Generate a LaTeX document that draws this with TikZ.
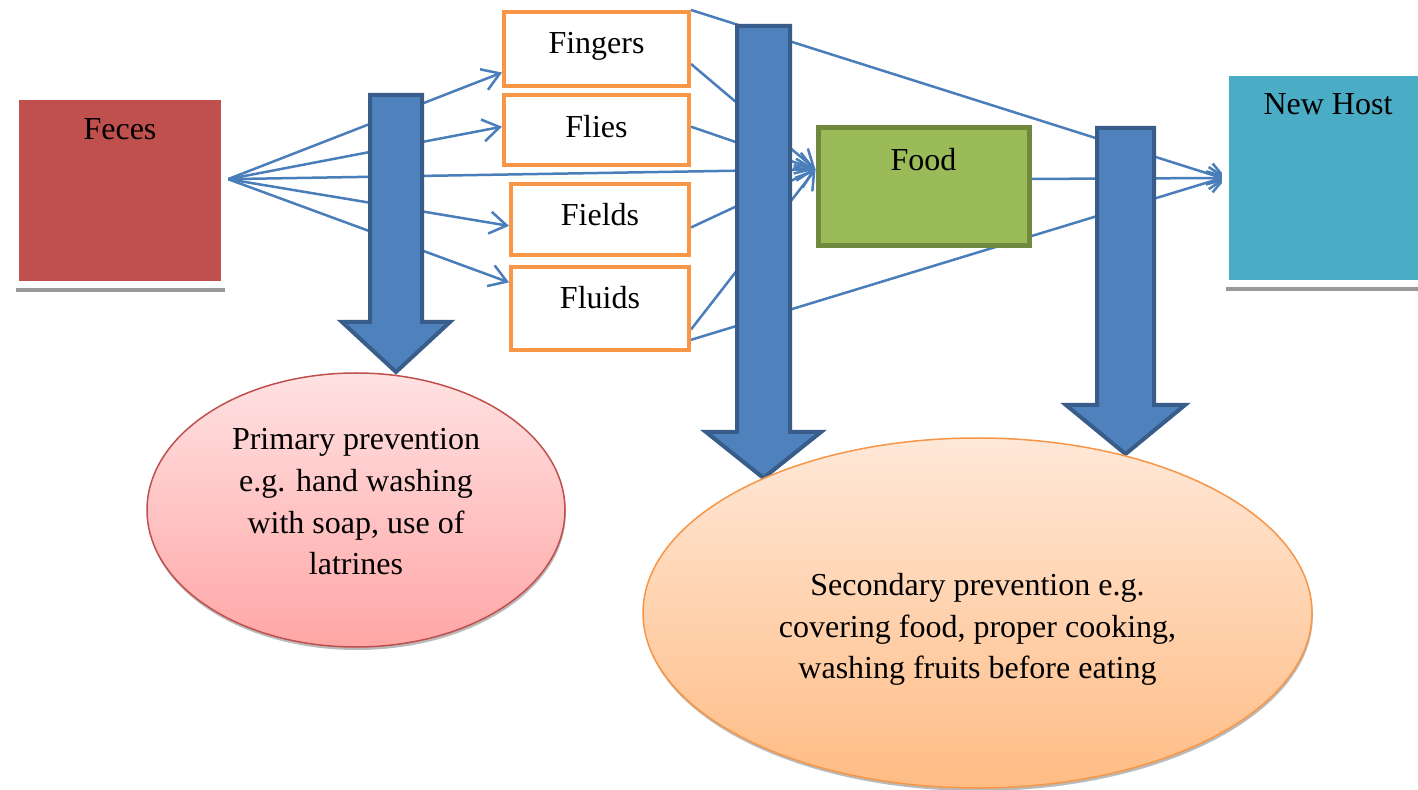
\documentclass[tikz,border=0pt]{standalone}
\usepackage{fontspec}
\setmainfont{Liberation Serif}
\usetikzlibrary{arrows.meta,shapes.geometric,shadows}
\definecolor{fecesred}{HTML}{C0504D}
\definecolor{hostteal}{HTML}{4BACC6}
\definecolor{vorange}{HTML}{F79646}
\definecolor{foodgreen}{HTML}{9BBB59}
\definecolor{foodedge}{HTML}{71893F}
\definecolor{linkblue}{HTML}{4A7EBB}
\definecolor{barfill}{HTML}{4F81BD}
\definecolor{baredge}{HTML}{385D8A}
\definecolor{pinktop}{HTML}{FFE2E2}
\definecolor{pinkbot}{HTML}{FFA6A6}
\definecolor{peachtop}{HTML}{FFE8D8}
\definecolor{peachbot}{HTML}{FFBC84}
\pgfdeclarelayer{background}
\pgfsetlayers{background,main}
\begin{document}
\begin{tikzpicture}[x=0.5pt,y=-0.5pt,
  every node/.style={font=\fontsize{16pt}{20.85pt}\selectfont, text=black},
  framebox/.style={rectangle, draw=white, line width=3.5pt,
    drop shadow={shadow xshift=0pt, shadow yshift=-3.75pt, fill=black!40, opacity=1}},
  vecbox/.style={rectangle, draw=vorange, line width=2pt, fill=white},
  foodbox/.style={rectangle, draw=foodedge, line width=2.5pt, fill=foodgreen},
  link/.style={draw=linkblue, line width=1.25pt},
  tipped/.style={link, -{Straight Barb[length=8.5pt,width=11pt]}},
  blockarrow/.style={fill=barfill, draw=baredge, line width=2pt, line join=miter},
  prevoval/.style={ellipse, line width=0.75pt,
    drop shadow={shadow xshift=0.4pt, shadow yshift=-1.5pt, fill=black!45, opacity=0.6}}
]
\useasboundingbox (0,0) rectangle (1418,790);
\begin{pgfonlayer}{background}
\fill[white] (0,0) rectangle (1418,790);
\end{pgfonlayer}

% boxes
\node[framebox, fill=fecesred, minimum width=104.5pt, minimum height=94pt,
  label={[anchor=base,yshift=-23.5pt]north:Feces}] (feces) at (120,190.5) {};
\node[framebox, fill=hostteal, minimum width=102.5pt, minimum height=105.5pt,
  label={[anchor=base,yshift=-23pt]north:New Host}] (host) at (1328,178) {};
\node[vecbox, minimum width=92.5pt, minimum height=37pt,
  label={[anchor=base,yshift=-22pt]north:Fingers}] (fingers) at (596.5,49) {};
\node[vecbox, minimum width=92.5pt, minimum height=35pt,
  label={[anchor=base,yshift=-22.25pt]north:Flies}] (flies) at (596.5,130) {};
\node[vecbox, minimum width=89pt, minimum height=35.5pt,
  label={[anchor=base,yshift=-21.75pt]north:Fields}] (fields) at (600,219.5) {};
\node[vecbox, minimum width=89pt, minimum height=41.5pt,
  label={[anchor=base,yshift=-21.75pt]north:Fluids}] (fluids) at (600,308.5) {};
\node[foodbox, minimum width=105.5pt, minimum height=59pt,
  label={[anchor=base,yshift=-22.75pt]north:Food}] (food) at (923.5,186.5) {};

% connectors (behind the block arrows)
\begin{pgfonlayer}{background}
\draw[tipped] (feces.6.5) -- (fingers.194);
\draw[tipped] (feces.6.5) -- (flies.178);
\draw[tipped] (feces.6.5) -- (food.171);
\draw[tipped] (feces.6.5) -- (fields.184);
\draw[tipped] (feces.6.5) -- (fluids.164);
\draw[tipped] (fingers.-9) -- (food.171);
\draw[tipped] (flies.2) -- (food.171);
\draw[tipped] (fields.-5) -- (food.171);
\draw[tipped] (fluids.-13) -- (food.171);
\draw[tipped, shorten >=-3pt] (fingers.north east) -- (host.west);
\draw[tipped, shorten >=-3pt] (food.4.5) -- (host.west);
\draw[tipped, shorten >=-3pt] (fluids.-19) -- (host.west);
\end{pgfonlayer}

% block arrows
\path[blockarrow] (370,95) -- (422,95) -- (422,322) -- (450,322) -- (396,372)
  -- (342,322) -- (370,322) -- cycle;
\path[blockarrow] (737,26) -- (790,26) -- (790,432) -- (821,432) -- (763.5,478)
  -- (706,432) -- (737,432) -- cycle;
\path[blockarrow] (1097,128) -- (1154,128) -- (1154,405) -- (1185,405) -- (1125.5,454)
  -- (1066,405) -- (1097,405) -- cycle;

% prevention ovals
\node[prevoval, draw=fecesred, top color=pinktop, bottom color=pinkbot,
  minimum width=209pt, minimum height=137pt,
  label={[anchor=center, align=center, yshift=4pt]center:{Primary prevention\\e.g. hand washing\\with soap, use of\\latrines}}]
  (primary) at (356,510) {};
\node[prevoval, draw=vorange, top color=peachtop, bottom color=peachbot,
  minimum width=334.5pt, minimum height=175pt,
  label={[anchor=center, align=center, yshift=-8.3pt]center:{Secondary prevention e.g.\\covering food, proper cooking,\\washing fruits before eating}}]
  (secondary) at (977.5,613) {};
\end{tikzpicture}
\end{document}
